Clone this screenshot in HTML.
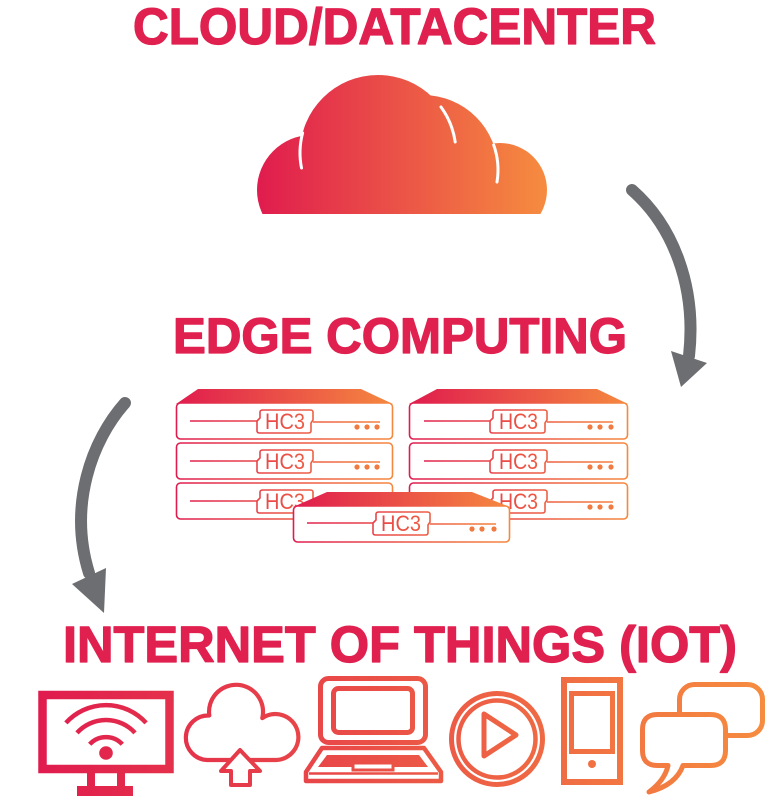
<!DOCTYPE html>
<html><head><meta charset="utf-8"><style>
html,body{margin:0;padding:0;background:#fff;}
svg{display:block;}
text{font-family:"Liberation Sans",sans-serif;}
</style></head><body>
<svg width="766" height="796" viewBox="0 0 766 796" xmlns="http://www.w3.org/2000/svg">
<defs>
<linearGradient id="gc" gradientUnits="userSpaceOnUse" x1="257" y1="0" x2="547" y2="0"><stop offset="0" stop-color="#e01c4e"/><stop offset="1" stop-color="#f68c3f"/></linearGradient>
<linearGradient id="gl" gradientUnits="userSpaceOnUse" x1="176" y1="0" x2="393" y2="0"><stop offset="0" stop-color="#e01c4e"/><stop offset="1" stop-color="#f5883f"/></linearGradient>
<linearGradient id="gr" gradientUnits="userSpaceOnUse" x1="409" y1="0" x2="628" y2="0"><stop offset="0" stop-color="#e01c4e"/><stop offset="1" stop-color="#f5883f"/></linearGradient>
<linearGradient id="gf" gradientUnits="userSpaceOnUse" x1="293" y1="0" x2="510" y2="0"><stop offset="0" stop-color="#e01c4e"/><stop offset="1" stop-color="#f5883f"/></linearGradient>
<linearGradient id="gi" gradientUnits="userSpaceOnUse" x1="38" y1="0" x2="765" y2="0"><stop offset="0" stop-color="#e01c4e"/><stop offset="1" stop-color="#f68c3f"/></linearGradient>
<clipPath id="cc"><rect x="0" y="0" width="766" height="214"/></clipPath>
</defs>

<!-- Titles -->
<g fill="#e0204f" stroke="#e0204f" stroke-width="1.3" stroke-linejoin="round" font-weight="bold">
<text x="133" y="44" font-size="51" textLength="523" lengthAdjust="spacingAndGlyphs">CLOUD/DATACENTER</text>
<text x="173" y="353" font-size="50" textLength="454" lengthAdjust="spacingAndGlyphs">EDGE COMPUTING</text>
<text x="63" y="662" font-size="51" textLength="674" lengthAdjust="spacingAndGlyphs">INTERNET OF THINGS (IOT)</text>
</g>

<!-- Cloud -->
<g clip-path="url(#cc)" fill="url(#gc)">
<circle cx="312" cy="190" r="55"/>
<circle cx="378" cy="153" r="78"/>
<circle cx="423" cy="170" r="75"/>
<circle cx="500" cy="190" r="47"/>
</g>
<g fill="none" stroke="#fff" stroke-width="3" stroke-linecap="round">
<path d="M302.6,133 A78,78 0 0,0 301.5,168"/>
<path d="M441,107 A78,78 0 0,1 455.2,142"/>
<path d="M493.7,145 A75,75 0 0,1 497,182"/>
</g>

<!-- Arrows -->
<path d="M632,190 C672,225 697,285 689,356" fill="none" stroke="#6d6e71" stroke-width="12" stroke-linecap="round"/>
<polygon points="671,351 707,363 681,387" fill="#6d6e71"/>
<path d="M125,403 C92,440 68,505 89,573" fill="none" stroke="#6d6e71" stroke-width="12" stroke-linecap="round"/>
<polygon points="72,584 106,568 104,613" fill="#6d6e71"/>

<!-- Left stack -->
<g>
<polygon points="176,404 198,389 361,389 393,404" fill="url(#gl)"/>
<g fill="#fff" stroke="url(#gl)" stroke-width="1.6">
<rect x="176.5" y="403" width="216" height="36" rx="4"/>
<rect x="176.5" y="443" width="216" height="36" rx="4"/>
<rect x="176.5" y="483" width="216" height="36" rx="4"/>
</g>
<g fill="none" stroke="url(#gl)" stroke-width="1.6" stroke-linejoin="round">
<path d="M190,421 H257"/>
<path d="M257,421 L260,418 V412 Q260,410 263,410 H310 Q313,410 313,412 V420 L311,423 V431 Q311,433 308,433 H260 Q257,433 257,431 Z"/>
<path d="M313,422 H380"/>
<path d="M190,461 H257"/>
<path d="M257,461 L260,458 V452 Q260,450 263,450 H310 Q313,450 313,452 V460 L311,463 V471 Q311,473 308,473 H260 Q257,473 257,471 Z"/>
<path d="M313,462 H380"/>
<path d="M190,501 H257"/>
<path d="M257,501 L260,498 V492 Q260,490 263,490 H310 Q313,490 313,492 V500 L311,503 V511 Q311,513 308,513 H260 Q257,513 257,511 Z"/>
<path d="M313,502 H380"/>
</g>
<g fill="url(#gl)" font-size="22">
<text x="265" y="429" textLength="40" lengthAdjust="spacingAndGlyphs">HC3</text>
<text x="265" y="469" textLength="40" lengthAdjust="spacingAndGlyphs">HC3</text>
<text x="265" y="509" textLength="40" lengthAdjust="spacingAndGlyphs">HC3</text>
</g>
<g fill="#f07a40">
<circle cx="357" cy="427" r="2.6"/><circle cx="367" cy="427" r="2.6"/><circle cx="377" cy="427" r="2.6"/>
<circle cx="357" cy="467" r="2.6"/><circle cx="367" cy="467" r="2.6"/><circle cx="377" cy="467" r="2.6"/>
</g>
</g>

<!-- Right stack -->
<g>
<polygon points="409,404 437,389 597,389 628,404" fill="url(#gr)"/>
<g fill="#fff" stroke="url(#gr)" stroke-width="1.6">
<rect x="409.5" y="403" width="218" height="36" rx="4"/>
<rect x="409.5" y="443" width="218" height="36" rx="4"/>
<rect x="409.5" y="483" width="218" height="36" rx="4"/>
</g>
<g fill="none" stroke="url(#gr)" stroke-width="1.6" stroke-linejoin="round">
<path d="M424,421 H490"/>
<path d="M490,421 L493,418 V412 Q493,410 496,410 H544 Q547,410 547,412 V420 L545,423 V431 Q545,433 542,433 H493 Q490,433 490,431 Z"/>
<path d="M547,422 H613"/>
<path d="M424,461 H490"/>
<path d="M490,461 L493,458 V452 Q493,450 496,450 H544 Q547,450 547,452 V460 L545,463 V471 Q545,473 542,473 H493 Q490,473 490,471 Z"/>
<path d="M547,462 H613"/>
<path d="M424,501 H490"/>
<path d="M490,501 L493,498 V492 Q493,490 496,490 H544 Q547,490 547,492 V500 L545,503 V511 Q545,513 542,513 H493 Q490,513 490,511 Z"/>
<path d="M547,502 H613"/>
</g>
<g fill="url(#gr)" font-size="22">
<text x="499" y="429" textLength="39" lengthAdjust="spacingAndGlyphs">HC3</text>
<text x="499" y="469" textLength="39" lengthAdjust="spacingAndGlyphs">HC3</text>
<text x="499" y="509" textLength="39" lengthAdjust="spacingAndGlyphs">HC3</text>
</g>
<g fill="#f07a40">
<circle cx="590" cy="427" r="2.6"/><circle cx="600" cy="427" r="2.6"/><circle cx="611" cy="427" r="2.6"/>
<circle cx="590" cy="467" r="2.6"/><circle cx="600" cy="467" r="2.6"/><circle cx="611" cy="467" r="2.6"/>
<circle cx="590" cy="507" r="2.6"/><circle cx="600" cy="507" r="2.6"/><circle cx="611" cy="507" r="2.6"/>
</g>
</g>

<!-- Front unit -->
<g>
<polygon points="293,507 327,492 472,492 510,507" fill="url(#gf)"/>
<rect x="293.5" y="506" width="216" height="36" rx="4" fill="#fff" stroke="url(#gf)" stroke-width="1.6"/>
<g fill="none" stroke="url(#gf)" stroke-width="1.6" stroke-linejoin="round">
<path d="M307,523 H373"/>
<path d="M373,523 L376,520 V514 Q376,512 379,512 H427 Q430,512 430,514 V522 L428,525 V533 Q428,535 425,535 H376 Q373,535 373,533 Z"/>
<path d="M430,524 H496"/>
</g>
<text x="381" y="531" font-size="22" fill="url(#gf)" textLength="40" lengthAdjust="spacingAndGlyphs">HC3</text>
<g fill="#f07a40"><circle cx="472" cy="529" r="2.6"/><circle cx="482" cy="529" r="2.6"/><circle cx="494" cy="529" r="2.6"/></g>
</g>

<!-- IoT icons -->
<g stroke="url(#gi)" fill="none">
<!-- monitor -->
<rect x="42.5" y="695" width="127" height="74" stroke-width="8.5"/>
<path d="M89.7,744.3 A22,22 0 0,1 122.3,744.3" stroke-width="4.5"/>
<path d="M77,732.9 A39,39 0 0,1 135,732.9" stroke-width="4.5"/>
<path d="M65.9,722.9 A54,54 0 0,1 146.1,722.9" stroke-width="4.5"/>
<!-- cloud upload -->
<path d="M207,760 A22,22 0 1,1 209.3,715.5 A27,27 0 1,1 262.3,718.1 A23,23 0 1,1 276,760 Z" stroke-width="4.2" stroke-linejoin="round"/>
<path d="M240,750 L260,771 L250,771 L250,785 L231,785 L231,771 L221,771 Z" fill="#fff" stroke-width="4" stroke-linejoin="round"/>
<!-- laptop -->
<rect x="320.5" y="678.5" width="105" height="64" rx="8" stroke-width="5"/>
<rect x="333.5" y="688.5" width="79" height="44" rx="5" stroke-width="5"/>
<path d="M322,748 L424,748 L441,772 L441,781 L306,781 L306,772 Z" stroke-width="4.5" stroke-linejoin="round"/>
<path d="M327,755 L419,755 L428,767 L318,767 Z" fill="url(#gi)" stroke="none"/>
<rect x="353" y="763" width="40" height="7" stroke-width="3" fill="#fff"/>
<path d="M309,773.5 H438" stroke-width="2.5"/>
<!-- play -->
<circle cx="497" cy="739" r="45.5" stroke-width="5"/>
<circle cx="497" cy="739" r="38.5" stroke-width="4.5"/>
<path d="M484,714 L484,756 L516,735 Z" stroke-width="5" stroke-linejoin="round"/>
<!-- phone -->
<rect x="564" y="680" width="56" height="102" stroke-width="6"/>
<rect x="571.5" y="693.5" width="41" height="58" stroke-width="5"/>
<!-- chat -->
<rect x="679.5" y="684.5" width="83" height="51" rx="15" stroke-width="5"/>
<path d="M657.5,714.5 H710.5 Q725.5,714.5 725.5,729.5 V750.5 Q725.5,765.5 710.5,765.5 H683 Q676,785 649,792 Q665,780 668,765.5 H657.5 Q642.5,765.5 642.5,750.5 V729.5 Q642.5,714.5 657.5,714.5 Z" fill="#fff" stroke-width="5" stroke-linejoin="round"/>
</g>
<g fill="url(#gi)">
<circle cx="106" cy="753" r="6.8"/>
<rect x="87" y="772" width="8" height="15"/>
<rect x="117" y="772" width="8" height="15"/>
<rect x="77" y="786" width="56" height="10"/>
<circle cx="592" cy="764" r="4"/>
</g>
</svg>
</body></html>
